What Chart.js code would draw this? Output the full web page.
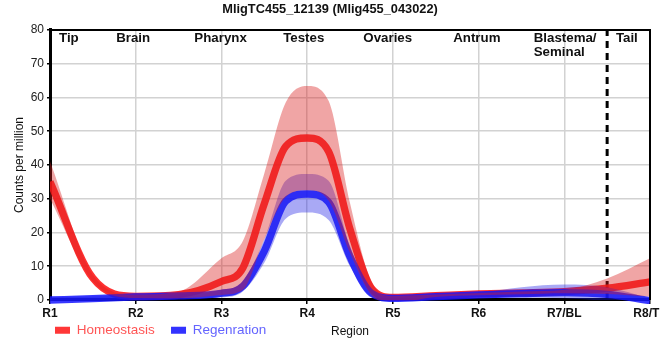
<!DOCTYPE html>
<html>
<head>
<meta charset="utf-8">
<script src="https://cdn.jsdelivr.net/npm/chart.js@4.4.1/dist/chart.umd.min.js"></script>
<style>
  html, body { margin: 0; padding: 0; background: #fff; }
  #wrap { width: 660px; height: 360px; }
</style>
</head>
<body>
<div id="wrap"><canvas id="c" width="660" height="360"></canvas></div>
<script>
// ---- data ----
const positions = [1, 1.5, 2, 2.5, 3, 3.25, 3.5, 3.75, 4, 4.25, 4.5, 4.75, 5, 5.5, 6, 6.5, 7, 7.5, 8];
const xTickLabels = ['R1', 'R2', 'R3', 'R4', 'R5', 'R6', 'R7/BL', 'R8/TL'];
const yTicks = { min: 0, max: 80, step: 10 };

const homeostasis      = [35, 6.5, 1.1, 1.6, 5.5, 9.5, 28.5, 45.5, 48, 44, 21, 3.5, 0.8, 1.3, 1.8, 2.1, 2.5, 3.5, 5.4];
const homeostasisUpper = [41, 7.5, 1.6, 2.5, 12.4, 17.5, 37.5, 58.5, 63.4, 59, 28.7, 5.5, 1.2, 1.6, 2.1, 2.5, 3, 6.4, 12.4];
const homeostasisLower = [30, 5.5, 0.6, 0.5, 1.5, 3, 18, 30.5, 32.5, 29.5, 14, 1.5, -0.8, 0.9, 1.4, 1.7, 2, 1.8, 1];

const regeneration      = [0, 0.4, 0.9, 1.2, 2, 4.1, 14.5, 29.3, 31.4, 29, 12.8, 2, 0.5, 1, 1.5, 1.9, 2.2, 1.7, -0.2];
const regenerationUpper = [0.8, 1, 1.4, 1.6, 3, 5.5, 18, 35.3, 37.3, 35.3, 16, 3, 1, 1.4, 2.2, 3.8, 4.6, 3.8, 0.5];
const regenerationLower = [-0.8, -0.3, 0.4, 0.6, 0.8, 2.5, 11, 24.1, 25.9, 23.7, 10, 1, -0.2, 0.6, 0.9, 0.7, 0.5, -0.3, -1.5];

const dividerAt = 7.5;
const regionNames = [['Tip'], ['Brain'], ['Pharynx'], ['Testes'], ['Ovaries'], ['Antrum'], ['Blastema/', 'Seminal'], ['Tail']];
const regionCenters = [1.22, 1.97, 2.99, 3.96, 4.94, 5.98, 7.01, 7.73];

const titleText = 'MligTC455_12139 (Mlig455_043022)';
const yTitle = 'Counts per million';
const xTitle = 'Region';
// --------------------------------------

Chart.defaults.font.family = "'Liberation Sans', Arial, sans-serif";

const pts = arr => positions.map((x, i) => ({ x: x, y: arr[i] }));
const CLIP = { left: 0, top: 0, right: 0, bottom: 4 };

const datasets = [
  { label: 'hUpper', data: pts(homeostasisUpper), borderWidth: 0, pointRadius: 0,
    backgroundColor: 'rgba(217,30,30,0.4)', fill: '+1', cubicInterpolationMode: 'monotone', clip: CLIP },
  { label: 'hLower', data: pts(homeostasisLower), borderWidth: 0, pointRadius: 0,
    fill: false, cubicInterpolationMode: 'monotone', clip: CLIP },
  { label: 'rUpper', data: pts(regenerationUpper), borderWidth: 0, pointRadius: 0,
    backgroundColor: 'rgba(30,30,230,0.38)', fill: '+1', cubicInterpolationMode: 'monotone', clip: CLIP },
  { label: 'rLower', data: pts(regenerationLower), borderWidth: 0, pointRadius: 0,
    fill: false, cubicInterpolationMode: 'monotone', clip: CLIP },
  { label: 'Regenration', data: pts(regeneration), borderColor: 'rgba(20,20,255,0.85)', borderWidth: 7.3,
    pointRadius: 0, fill: false, cubicInterpolationMode: 'monotone', clip: CLIP,
    legendBox: 'rgb(50,50,255)', legendText: 'rgb(100,100,255)' },
  { label: 'Homeostasis', data: pts(homeostasis), borderColor: 'rgba(255,20,20,0.88)', borderWidth: 7.3,
    pointRadius: 0, fill: false, cubicInterpolationMode: 'monotone', clip: CLIP,
    legendBox: 'rgb(255,55,55)', legendText: 'rgb(255,85,85)' },
  { label: 'divider', data: [{ x: dividerAt, y: yTicks.min }, { x: dividerAt, y: yTicks.max }],
    borderColor: '#000', borderWidth: 3, borderDash: [7, 5], pointRadius: 0, fill: false, tension: 0 }
];

const frameAndRegions = {
  id: 'frameAndRegions',
  afterLayout(chart) {
    chart.legend.left = 38.75;
    chart.legend.top = 307.2;
  },
  afterDraw(chart) {
    const { ctx, chartArea: a, scales: { x } } = chart;
    ctx.save();
    ctx.strokeStyle = '#000';
    ctx.lineWidth = 2;
    ctx.beginPath();
    ctx.moveTo(a.left, a.top);
    ctx.lineTo(a.right, a.top);
    ctx.lineTo(a.right, a.bottom);
    ctx.stroke();
    ctx.font = "bold 13.3px 'Liberation Sans', Arial, sans-serif";
    ctx.fillStyle = '#111';
    ctx.textBaseline = 'top';
    ctx.textAlign = 'left';
    regionNames.forEach((lines, i) => {
      const cx = x.getPixelForValue(regionCenters[i]);
      const w = Math.max(...lines.map(t => ctx.measureText(t).width));
      lines.forEach((t, j) => ctx.fillText(t, cx - w / 2, a.top + 1.5 + j * 14.5));
    });
    ctx.restore();
  }
};

new Chart(document.getElementById('c'), {
  type: 'line',
  data: { datasets },
  options: {
    responsive: false,
    animation: false,
    layout: { padding: { left: 10, right: 10, top: 0, bottom: 0 } },
    plugins: {
      title: { display: true, text: titleText, color: '#111',
        font: { size: 12.8, weight: 'bold' }, padding: { top: 1.5, bottom: 13.1 } },
      tooltip: { enabled: false },
      legend: {
        position: 'bottom', align: 'start',
        labels: {
          boxWidth: 15, boxHeight: 7, padding: 16.25, font: { size: 13.5 },
          generateLabels(chart) {
            return [5, 4].map(i => {
              const ds = chart.data.datasets[i];
              return { text: ds.label, fillStyle: ds.legendBox, strokeStyle: ds.legendBox,
                lineWidth: 0, fontColor: ds.legendText, datasetIndex: i, hidden: false };
            });
          }
        }
      }
    },
    scales: {
      x: {
        type: 'linear', min: 1, max: 8,
        ticks: { stepSize: 1, autoSkip: false, maxRotation: 0, padding: 2,
          font: { size: 12, weight: 'bold' }, color: '#111',
          callback: v => xTickLabels[v - 1] },
        grid: { color: '#d2d2d2', lineWidth: 1.5, tickLength: 4, tickColor: '#000' },
        border: { color: '#000', width: 3 },
        title: { display: true, text: xTitle, color: '#111', font: { size: 12 },
          padding: { top: 0, bottom: -18.95 } },
        afterFit(s) { s.height = 20.25; s.paddingLeft = 0; s.paddingRight = 0; }
      },
      y: {
        min: yTicks.min, max: yTicks.max,
        ticks: { stepSize: yTicks.step, padding: 3, font: { size: 12 }, color: '#222' },
        grid: { color: '#d2d2d2', lineWidth: 1.5, tickLength: 3, tickColor: '#000' },
        border: { color: '#000', width: 3 },
        title: { display: true, text: yTitle, color: '#111', font: { size: 12 },
          padding: { top: 2, bottom: 0 } },
        afterFit(s) { s.width = 40; }
      }
    }
  },
  plugins: [frameAndRegions]
});
</script>
</body>
</html>
